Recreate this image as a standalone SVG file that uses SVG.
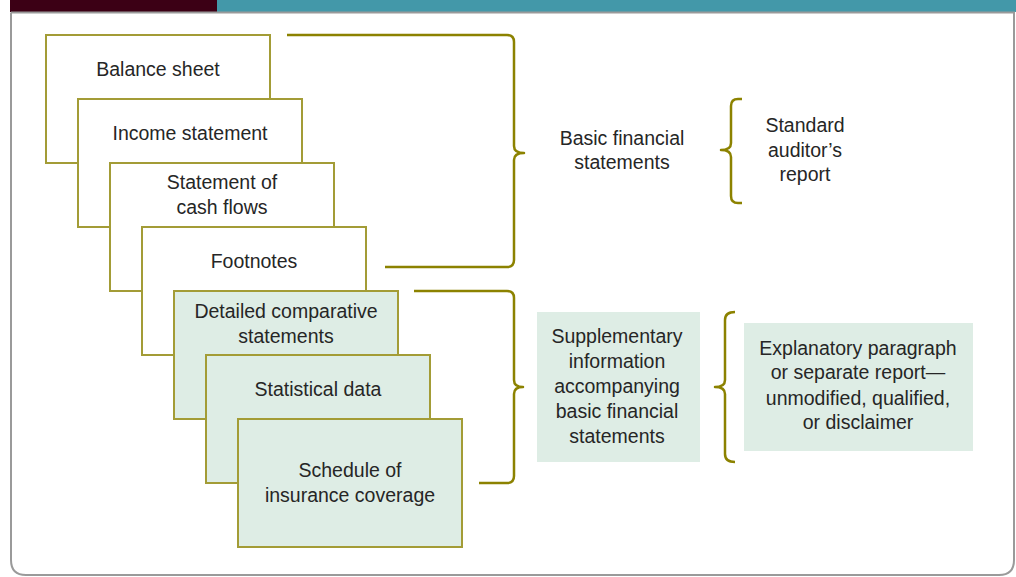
<svg xmlns="http://www.w3.org/2000/svg" width="1016" height="577" viewBox="0 0 1016 577">
<style>
.box{stroke:#a39c36;stroke-width:2}
.w{fill:#ffffff}
.g{fill:#deede5}
.t{font-family:"Liberation Sans",Arial,sans-serif;font-size:19.5px;fill:#262626;text-anchor:middle}
.br{fill:none;stroke:#8c8200;stroke-width:2.5;stroke-linejoin:round}
</style>
<rect x="0" y="0" width="1016" height="577" fill="#ffffff"/>
<g id="frame">
<rect x="10" y="0" width="207" height="12" fill="#3c0015"/>
<rect x="217" y="0" width="799" height="12" fill="#4398a9"/>
<path d="M11,12.5 V560 Q11,575 26,575 H999 Q1014,575 1014,560 V12.5 H11" fill="none" stroke="#9a9a9a" stroke-width="2"/>
</g>
<g id="balance-sheet">
<rect class="box w" x="46" y="35" width="224" height="128"/>
<text class="t" x="158" y="76">Balance sheet</text>
</g>
<g id="income-statement">
<rect class="box w" x="78" y="99" width="224" height="128"/>
<text class="t" x="190" y="140">Income statement</text>
</g>
<g id="cash-flows">
<rect class="box w" x="110" y="163" width="224" height="128"/>
<text class="t" x="222" y="189">Statement of</text>
<text class="t" x="222" y="214">cash flows</text>
</g>
<g id="footnotes">
<rect class="box w" x="142" y="227" width="224" height="128"/>
<text class="t" x="254" y="268">Footnotes</text>
</g>
<g id="detailed-comparative">
<rect class="box g" x="174" y="291" width="224" height="128"/>
<text class="t" x="286" y="318">Detailed comparative</text>
<text class="t" x="286" y="343">statements</text>
</g>
<g id="statistical-data">
<rect class="box g" x="206" y="355" width="224" height="128"/>
<text class="t" x="318" y="396">Statistical data</text>
</g>
<g id="insurance-coverage">
<rect class="box g" x="238" y="419" width="224" height="128"/>
<text class="t" x="350" y="477">Schedule of</text>
<text class="t" x="350" y="502">insurance coverage</text>
</g>
<g id="connectors">
<path class="br" d="M287,35 H507 Q514,35 514,42 V146 Q514,153 524,153 Q514,153 514,160 V260 Q514,267 507,267 H385"/>
<path class="br" d="M414,291 H507 Q514,291 514,298 V380 Q514,387 523,387 Q514,387 514,394 V476 Q514,483 507,483 H479"/>
<path class="br" d="M742,99 H738 Q731,99 731,106 V143 Q731,150 721,150 Q731,150 731,157 V196 Q731,203 738,203 H742"/>
<path class="br" d="M735,312 Q725,312 725,320 V380 Q725,387 715,387 Q725,387 725,394 V454 Q725,462 735,462"/>
</g>
<g id="basic-financial-statements">
<text class="t" x="622" y="145">Basic financial</text>
<text class="t" x="622" y="169">statements</text>
</g>
<g id="standard-auditors-report">
<text class="t" x="805" y="132">Standard</text>
<text class="t" x="805" y="157">auditor’s</text>
<text class="t" x="805" y="181">report</text>
</g>
<g id="supplementary-information">
<rect class="g" x="537" y="312" width="163" height="150"/>
<text class="t" x="617" y="343">Supplementary</text>
<text class="t" x="617" y="368">information</text>
<text class="t" x="617" y="393">accompanying</text>
<text class="t" x="617" y="418">basic financial</text>
<text class="t" x="617" y="443">statements</text>
</g>
<g id="explanatory-paragraph">
<rect class="g" x="744" y="323" width="229" height="128"/>
<text class="t" x="858" y="355">Explanatory paragraph</text>
<text class="t" x="858" y="379">or separate report—</text>
<text class="t" x="858" y="405">unmodified, qualified,</text>
<text class="t" x="858" y="429">or disclaimer</text>
</g>
</svg>
